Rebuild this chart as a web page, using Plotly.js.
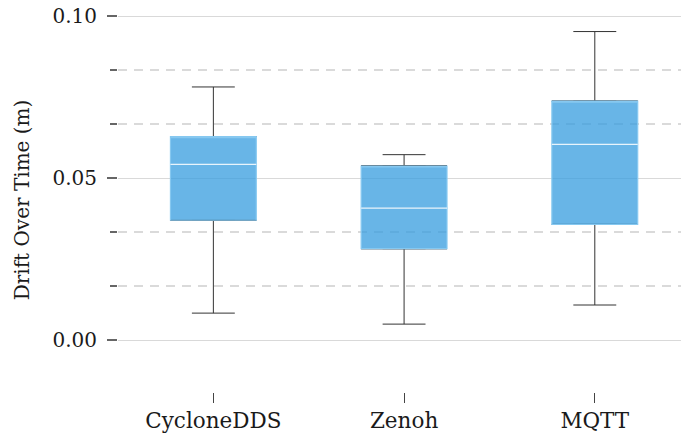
<!DOCTYPE html>
<html>
<head>
<meta charset="utf-8">
<script src="https://cdn.plot.ly/plotly-3.0.1.min.js"></script>
<style>html,body{margin:0;padding:0;background:#fff;}#chart{width:681px;height:436px;}</style>
</head>
<body>
<div id="chart"></div>
<script>
const categories = ["CycloneDDS", "Zenoh", "MQTT"];
const lowerWhisker = [0.0083, 0.0049, 0.0108];
const q1 = [0.0370, 0.0282, 0.0357];
const median = [0.0542, 0.0407, 0.0604];
const q3 = [0.0628, 0.0537, 0.0737];
const upperWhisker = [0.0781, 0.0572, 0.0952];
const yTickVals = [0, 0.05, 0.10];
const yTickText = ["0.00", "0.05", "0.10"];
const yMinorTickVals = [1 / 60, 2 / 60, 4 / 60, 5 / 60];

const FONT = "DejaVu Serif";
const boxW = 0.45;

const common = {
  type: "box", x: categories, width: boxW, whiskerwidth: 0.5,
  hoverinfo: "skip", showlegend: false, boxpoints: false
};

const lowerWhiskerTrace = Object.assign({}, common, {
  q1: q1, median: q1, q3: q1, lowerfence: lowerWhisker, upperfence: q1,
  line: {color: "#333333", width: 1}, fillcolor: "rgba(0,0,0,0)"
});
const upperWhiskerTrace = Object.assign({}, common, {
  q1: q3, median: q3, q3: q3, lowerfence: q3, upperfence: upperWhisker,
  line: {color: "#333333", width: 1}, fillcolor: "rgba(0,0,0,0)"
});
const boxTrace = Object.assign({}, common, {
  q1: q1, median: q3, q3: q3, lowerfence: q1, upperfence: q3,
  line: {color: "#86c8f0", width: 1.2}, fillcolor: "rgba(56,158,224,0.76)"
});
const medianTrace = Object.assign({}, common, {
  q1: median, median: median, q3: median, lowerfence: median, upperfence: median,
  whiskerwidth: 0,
  line: {color: "rgba(255,255,255,0.85)", width: 1.2}, fillcolor: "rgba(0,0,0,0)"
});

const layout = {
  width: 681, height: 436,
  margin: {l: 118, r: 0, t: 8, b: 44},
  paper_bgcolor: "#ffffff", plot_bgcolor: "#ffffff",
  boxmode: "overlay",
  font: {family: FONT, size: 20, color: "#1a1a1a"},
  showlegend: false,
  xaxis: {
    type: "category",
    range: [-0.5, 2.452],
    showgrid: false, zeroline: false, showline: false,
    ticks: "outside", ticklen: 10, tickwidth: 1, tickcolor: "#444444",
    ticklabelstandoff: -1,
    tickfont: {family: FONT, size: 21.5, color: "#1a1a1a"}
  },
  yaxis: {
    range: [-0.01605, 0.10247],
    tickvals: yTickVals, ticktext: yTickText,
    showgrid: true, gridcolor: "#d9d9d9", gridwidth: 1,
    zeroline: false, showline: false,
    ticks: "outside", ticklen: 10, tickwidth: 1.5, tickcolor: "#666666",
    ticklabelstandoff: 6,
    tickfont: {family: FONT, size: 20, color: "#1a1a1a"},
    minor: {
      tickvals: yMinorTickVals,
      ticks: "outside", ticklen: 7, tickwidth: 1.5, tickcolor: "#666666",
      showgrid: true, gridcolor: "#dadada", gridwidth: 1.5, griddash: "9px,7px"
    },
    title: {text: "Drift Over Time (m)", standoff: 17, font: {family: FONT, size: 20, color: "#1a1a1a"}}
  }
};

Plotly.newPlot("chart", [lowerWhiskerTrace, upperWhiskerTrace, boxTrace, medianTrace], layout, {displayModeBar: false, staticPlot: true});
</script>
</body>
</html>
